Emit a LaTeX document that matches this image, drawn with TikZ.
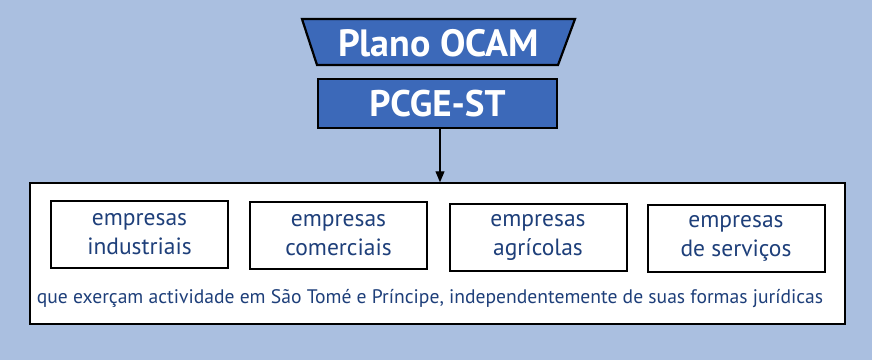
\documentclass[tikz,border=0pt]{standalone}
\usepackage{fontspec}
\setmainfont{PT Sans}
\usetikzlibrary{arrows.meta}
\definecolor{bgblue}{HTML}{AABFE0}
\definecolor{hdblue}{HTML}{3C69B9}
\definecolor{txblue}{HTML}{1E3F7A}
\tikzset{
  hdrshape/.style={draw=black, line width=2.2pt, fill=hdblue},
  hdrtext/.style={text=white, font=\fontsize{37}{39}\selectfont\bfseries},
  catbox/.style={draw=black, line width=2pt, fill=white, text=txblue, align=center, minimum width=177pt, minimum height=67pt, inner sep=0pt, font=\fontsize{23.5}{29}\selectfont},
}
\begin{document}
\begin{tikzpicture}[x=1pt,y=-1pt]
\fill[bgblue] (0,0) rectangle (872,360);
\useasboundingbox (0,0) rectangle (872,360);
% trapezoid
\draw[hdrshape] (302,19) -- (575,19) -- (558,65) -- (317,65) -- cycle;
\node[hdrtext, font=\fontsize{38}{40}\selectfont\bfseries] (ocam) at (438.5,43) {Plano OCAM};
\node[hdrshape, hdrtext, minimum width=239pt, minimum height=49pt, inner sep=0pt] (pcge) at (437.5,103.5) {PCGE-ST};
% outer box
\node[draw=black, line width=1.5pt, fill=white, minimum width=815pt, minimum height=141pt, inner sep=0pt] (outer) at (437.5,253.5) {};
\draw[-{Triangle[width=9pt,length=11pt]}, line width=1.2pt] (pcge.south -| 440,0) -- (outer.north -| 440,0);
\node[catbox] (b1) at (139.5,234.5) {empresas\\industriais};
\node[catbox] (b2) at (338.5,235) {empresas\\comerciais};
\node[catbox] (b3) at (538,237) {empresas\\agrícolas};
\node[catbox] (b4) at (736,238.5) {empresas\\de serviços};
\node[text=txblue, font=\fontsize{19.6}{22}\selectfont] (txt) at (430,299) {que exerçam actividade em São Tomé e Príncipe, independentemente de suas formas jurídicas};
\end{tikzpicture}
\end{document}
